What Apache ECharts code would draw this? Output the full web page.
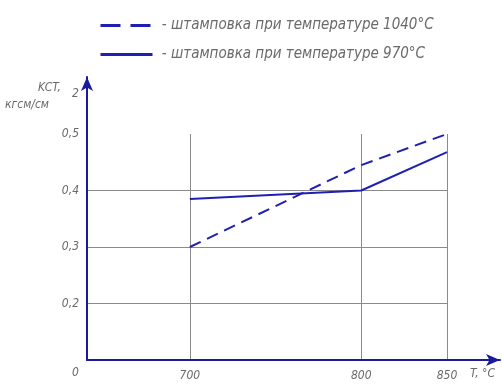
<!DOCTYPE html>
<html><head><meta charset="utf-8">
<script src="https://cdn.jsdelivr.net/npm/echarts@6/dist/echarts.min.js"></script>
<style>html,body{margin:0;padding:0;background:#fff}#c{width:503px;height:387px}</style>
</head><body><div id="c"></div>
<script>
const seriesNames = ['штамповка при температуре 1040°С', 'штамповка при температуре 970°С'];
const temps = [700, 800, 850];
const kct1040 = [0.30, 0.445, 0.50];
const kct970 = [0.385, 0.40, 0.468];
const xTicks = [700, 800, 850];
const yTicks = [0.1, 0.2, 0.3, 0.4, 0.5];
const yTickLabels = ['', '0,2', '0,3', '0,4', '0,5'];

const FONT = "'DejaVu Sans Condensed','DejaVu Sans',sans-serif";
const TXT = '#6a6a6a';
const BLUE = '#2020b0';
const AX = '#1a1a9c';

const chart = echarts.init(document.getElementById('c'), null, {renderer: 'canvas'});
chart.setOption({
  animation: false,
  backgroundColor: '#fff',
  grid: [
    {left: 87, right: 3, top: 77, bottom: 27},
    {left: 87, right: 56, top: 134, bottom: 27}
  ],
  legend: {
    left: 94, top: 13, orient: 'vertical', itemWidth: 52, itemHeight: 14, itemGap: 14,
    itemStyle: {opacity: 0},
    formatter: n => ' - ' + n,
    textStyle: {fontFamily: FONT, fontStyle: 'italic', fontSize: 15, color: TXT},
    data: [
      {name: seriesNames[0], lineStyle: {width: 3, type: [20, 10]}},
      {name: seriesNames[1], lineStyle: {width: 3}}
    ]
  },
  xAxis: [
    {gridIndex: 0, type: 'value', min: 640, max: 880, axisLine: {show: true, lineStyle: {color: AX, width: 2}, symbol: ['none', 'arrow'], symbolSize: [9, 14]},
     axisTick: {show: false}, axisLabel: {show: false}, splitLine: {show: false}},
    {gridIndex: 1, type: 'value', min: 640, max: 850, axisLine: {show: false}, axisTick: {show: false, customValues: xTicks},
     axisLabel: {customValues: xTicks, fontFamily: FONT, fontStyle: 'italic', fontSize: 12, color: TXT, margin: 10},
     splitLine: {show: true, lineStyle: {color: '#8a8a8a', width: 1}}}
  ],
  yAxis: [
    {gridIndex: 0, type: 'value', min: 0, max: 1, axisLine: {show: true, lineStyle: {color: AX, width: 2}, symbol: ['none', 'arrow'], symbolSize: [9, 14]},
     axisTick: {show: false}, axisLabel: {show: false}, splitLine: {show: false}},
    {gridIndex: 1, type: 'value', min: 0.1, max: 0.5, interval: 0.1, axisLine: {show: false}, axisTick: {show: false},
     axisLabel: {fontFamily: FONT, fontStyle: 'italic', fontSize: 12, color: TXT, margin: 8,
       formatter: v => { const i = yTicks.findIndex(t => Math.abs(t - v) < 1e-6); return i >= 0 ? yTickLabels[i] : ''; }},
     splitLine: {show: true, lineStyle: {color: ['rgba(0,0,0,0)', '#8a8a8a', '#8a8a8a', '#8a8a8a', 'rgba(0,0,0,0)'], width: 1}}}
  ],
  series: [
    {name: seriesNames[0], type: 'line', xAxisIndex: 1, yAxisIndex: 1, symbol: 'none',
     lineStyle: {color: BLUE, width: 2, type: [12, 7]}, itemStyle: {color: BLUE},
     data: temps.map((t, i) => [t, kct1040[i]])},
    {name: seriesNames[1], type: 'line', xAxisIndex: 1, yAxisIndex: 1, symbol: 'none',
     lineStyle: {color: BLUE, width: 2}, itemStyle: {color: BLUE},
     data: temps.map((t, i) => [t, kct970[i]])}
  ],
  graphic: [
    {type: 'text', left: 38, top: 82, style: {text: 'KCT,', font: 'italic 12px ' + FONT, fill: TXT}},
    {type: 'text', left: 5, top: 99, style: {text: 'кгсм/см', font: 'italic 12px ' + FONT, fill: TXT}},
    {type: 'text', left: 72, top: 88, style: {text: '2', font: 'italic 12px ' + FONT, fill: TXT}},
    {type: 'text', left: 72, top: 367, style: {text: '0', font: 'italic 12px ' + FONT, fill: TXT}},
    {type: 'text', left: 470, top: 368, style: {text: 'T, °C', font: 'italic 12px ' + FONT, fill: TXT}}
  ]
});
</script></body></html>
